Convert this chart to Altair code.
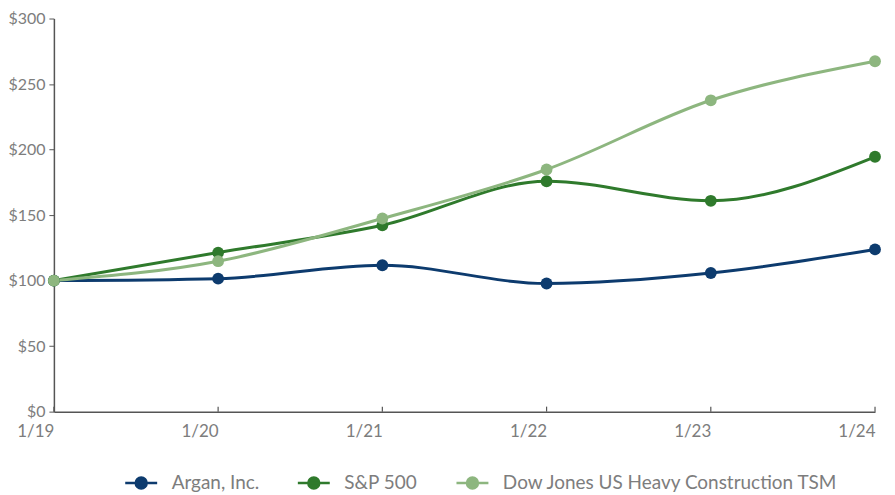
import altair as alt
import pandas as pd

years = ["1/19", "1/20", "1/21", "1/22", "1/23", "1/24"]
argan = [100, 101.5, 111.7, 97.8, 105.8, 123.8]
sp500 = [100, 121.4, 142.2, 175.8, 160.9, 194.5]
djhc = [100, 114.8, 147.4, 184.8, 237.6, 267.4]
series = ["Argan, Inc.", "S&P 500", "Dow Jones US Heavy Construction TSM"]
colors = ["#0d3b6e", "#2f7a2c", "#8db67f"]

rows = []
for name, vals in zip(series, [argan, sp500, djhc]):
    for i, (yr, v) in enumerate(zip(years, vals)):
        rows.append({"year": yr, "value": v, "series": name, "order": i})
df = pd.DataFrame(rows)

font = "Lato"
gray = "#7d7d7d"
axis_col = "#555555"

x = alt.X("year:O", sort=years, scale=alt.Scale(type="point", padding=0),
          axis=alt.Axis(title=None, labelAngle=0, labelFontSize=17, labelColor=gray,
                        labelFont=font, labelPadding=20, tickSize=0, domainColor=axis_col,
                        domainWidth=1.5))
y = alt.Y("value:Q", scale=alt.Scale(domain=[0, 300]),
          axis=alt.Axis(title=None, values=[0, 50, 100, 150, 200, 250, 300], format="$,.0f",
                        labelFontSize=16, labelColor=gray, labelFont=font, tickSize=5,
                        tickColor=axis_col, domainColor=axis_col, domainWidth=1.5,
                        labelPadding=4, grid=False))
color = alt.Color("series:N", sort=series,
                  scale=alt.Scale(domain=series, range=colors),
                  legend=alt.Legend(title=None, orient="none", direction="horizontal",
                                    legendX=76, legendY=454, padding=0,
                                    labelFontSize=19, labelColor=gray, labelFont=font,
                                    labelLimit=1000,
                                    symbolType="M-1.6,0H1.6M-0.55,0a0.55,0.55 0 1,0 1.1,0a0.55,0.55 0 1,0 -1.1,0",
                                    symbolSize=400, symbolStrokeWidth=2.5,
                                    columnPadding=33, labelOffset=19))

base = alt.Chart(df)
lines = base.mark_line(interpolate="monotone", strokeWidth=3).encode(
    x=x, y=y, color=color, order="order:Q")
points = base.mark_circle(size=140, opacity=1).encode(
    x=x, y=y, color=alt.Color("series:N", sort=series,
                              scale=alt.Scale(domain=series, range=colors), legend=None))

tick_df = pd.DataFrame({"year": years})
xticks = alt.Chart(tick_df).mark_rule(color=axis_col, strokeWidth=1.2).encode(
    x=alt.X("year:O", sort=years), y=alt.value(394), y2=alt.value(389))

chart = alt.layer(xticks, lines, points).properties(
    width=823, height=394,
    autosize=alt.AutoSizeParams(type="none"),
    padding={"left": 46, "top": 10, "right": 12, "bottom": 80},
).configure(background="white").configure_view(stroke=None)

chart.save("out.html", embed_options={"renderer": "svg", "actions": False})
